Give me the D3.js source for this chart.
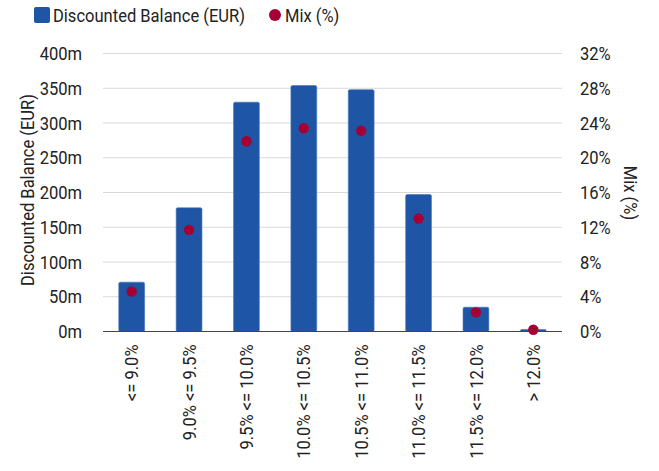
<!DOCTYPE html>
<html>
<head>
<script src="https://d3js.org/d3.v7.min.js"></script>
<style>
body { margin: 0; background: white; }
text { font-family: "Roboto", sans-serif; fill: #222; }
</style>
</head>
<body>
<svg id="chart" width="659" height="471"></svg>
<script>
// chart data
const categories = ["<= 9.0%", "9.0% <= 9.5%", "9.5% <= 10.0%", "10.0% <= 10.5%",
                    "10.5% <= 11.0%", "11.0% <= 11.5%", "11.5% <= 12.0%", "> 12.0%"];
const balance = [71, 178, 330, 354, 348, 197, 35, 3];           // EUR millions
const mix = [4.6, 11.7, 21.9, 23.4, 23.1, 13.0, 2.2, 0.2];       // percent
const leftTicks = [0, 50, 100, 150, 200, 250, 300, 350, 400];
const rightTicks = [0, 4, 8, 12, 16, 20, 24, 28, 32];

const plotLeft = 103, plotRight = 562, plotTop = 53.5, plotBottom = 331.5;
const barColor = "#1f55a5";
const dotColor = "#a50034";
const fontSize = "19px";
const squeeze = 0.87;   // fake a condensed face

var svg = d3.select("#chart");

var x = d3.scaleBand().domain(categories).range([plotLeft, plotRight]).paddingInner(0.55).paddingOuter(0.275);
var y = d3.scaleLinear().domain([0, 400]).range([plotBottom, plotTop]);
var y2 = d3.scaleLinear().domain([0, 32]).range([plotBottom, plotTop]);

// gridlines
svg.append("g")
.selectAll("line")
.data(leftTicks.slice(1))
.enter()
.append("line")
.attr("x1", plotLeft).attr("x2", plotRight)
.attr("y1", d => y(d)).attr("y2", d => y(d))
.attr("stroke", "#d9d9d9")
.attr("stroke-width", 1.2);

// left axis
var yAxis = svg.append("g")
.attr("transform", "translate(" + plotLeft + ",0)")
.call(d3.axisLeft(y).tickValues(leftTicks).tickSize(0).tickPadding(21).tickFormat(d => d + "m"));
yAxis.select(".domain").remove();

// right axis
var y2Axis = svg.append("g")
.attr("transform", "translate(" + plotRight + ",0)")
.call(d3.axisRight(y2).tickValues(rightTicks).tickSize(0).tickPadding(18).tickFormat(d => d + "%"));
y2Axis.select(".domain").remove();

// bars
svg.append("g")
.selectAll("rect")
.data(balance)
.enter()
.append("rect")
.attr("x", (d, i) => x(categories[i]))
.attr("y", d => y(d))
.attr("width", x.bandwidth())
.attr("height", d => y(0) - y(d))
.attr("rx", 1.5)
.attr("fill", barColor)
.attr("stroke", "#4a76b8")
.attr("stroke-width", 0.6);

// baseline
svg.append("line")
.attr("x1", plotLeft).attr("x2", plotRight)
.attr("y1", plotBottom).attr("y2", plotBottom)
.attr("stroke", "#444")
.attr("stroke-width", 1.2);

// mix dots
svg.append("g")
.selectAll("circle")
.data(mix)
.enter()
.append("circle")
.attr("cx", (d, i) => x(categories[i]) + x.bandwidth() / 2)
.attr("cy", d => y2(d))
.attr("r", 5.2)
.attr("fill", dotColor);

// x labels
var xAxis = svg.append("g")
.attr("transform", "translate(0," + plotBottom + ")")
.call(d3.axisBottom(x).tickSize(0).tickPadding(0));
xAxis.select(".domain").remove();
xAxis.selectAll("text")
.attr("transform", "rotate(-90)")
.attr("x", -13)
.attr("y", 0)
.attr("dy", "0.35em")
.style("text-anchor", "end");

// axis titles
svg.append("text")
.attr("transform", "translate(27,190) rotate(-90)")
.attr("dy", "0.35em")
.style("text-anchor", "middle")
.text("Discounted Balance (EUR)");

svg.append("text")
.attr("transform", "translate(631,193) rotate(90)")
.attr("dy", "0.35em")
.style("text-anchor", "middle")
.text("Mix (%)");

// legend
svg.append("rect").attr("x", 34).attr("y", 7).attr("width", 16).attr("height", 16).attr("rx", 2).attr("fill", barColor);
svg.append("text").attr("x", 53).attr("y", 15).attr("dy", "0.35em").text("Discounted Balance (EUR)");
svg.append("circle").attr("cx", 275).attr("cy", 15).attr("r", 6).attr("fill", dotColor);
svg.append("text").attr("x", 285).attr("y", 15).attr("dy", "0.35em").text("Mix (%)");

svg.selectAll("text")
.style("font-family", null)
.style("font-size", fontSize)
.attr("font-size", null)
.attr("font-family", null)
.each(function() {
    var len = this.getComputedTextLength();
    this.setAttribute("textLength", len * squeeze);
    this.setAttribute("lengthAdjust", "spacingAndGlyphs");
});
</script>
</body>
</html>
